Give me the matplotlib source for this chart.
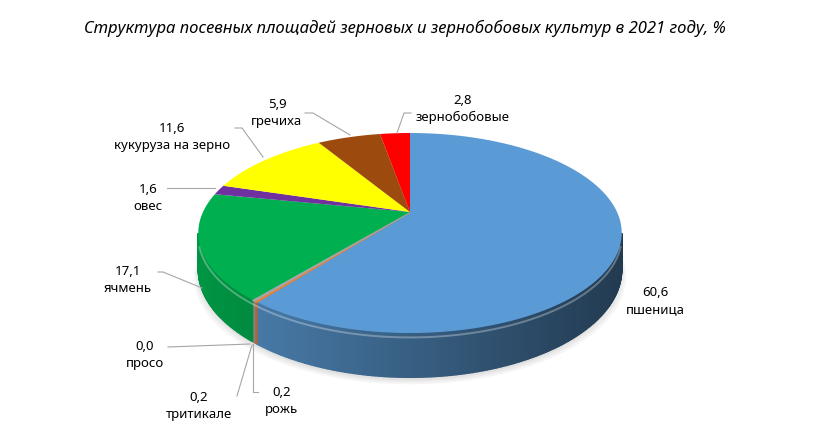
import numpy as np
import matplotlib.pyplot as plt
from matplotlib.patches import Polygon
from matplotlib.colors import to_rgb

plt.rcParams['font.family'] = ['Noto Sans', 'DejaVu Sans']

title = "Структура посевных площадей зерновых и зернобобовых культур в 2021 году, %"
crops = ["пшеница", "рожь", "тритикале", "просо", "ячмень", "овес",
         "кукуруза на зерно", "гречиха", "зернобобовые"]
shares = [60.6, 0.2, 0.2, 0.0, 17.1, 1.6, 11.6, 5.9, 2.8]
colors = ["#5B9BD5", "#ED7D31", "#A5A5A5", "#FFC000", "#00B050", "#7030A0",
          "#FFFF00", "#9C4A0E", "#FF0000"]

# label text centres and leader lines (pixels)
label_xy = [(655, 301), (282, 401), (199, 406), (145, 355), (128, 280),
            (148, 198), (172, 137), (277, 113), (463, 109)]
leaders = [None,
           [(253, 344), (253, 392), (258, 392)],
           [(252, 345), (237, 396)],
           [(250, 344), (168, 347)],
           [(202, 288), (163, 272), (158, 272)],
           [(215, 188), (167, 188)],
           [(263, 157), (242, 128), (235, 128)],
           [(350, 135), (313, 113), (305, 113)],
           [(397, 133), (404, 113), (411, 113)]]

# 3d pie geometry in pixels
cx, cy, A, B, k, D = 410, 212, 207, 95.6, 0.21, 35


def proj(t, h=0.0):
    s = 1 + k * np.cos(t)
    return cx + A * np.sin(t) / s, cy - B * np.cos(t) / s + D * h / s


fig = plt.figure(figsize=(8.25, 4.36), dpi=100)
ax = fig.add_axes([0, 0, 1, 1])
ax.set_xlim(0, 825)
ax.set_ylim(436, 0)
ax.axis('off')

fracs = np.array(shares) / sum(shares)
ends = np.cumsum(fracs) * 2 * np.pi
starts = ends - fracs * 2 * np.pi

# soft shadow
tt = np.linspace(0, 2 * np.pi, 200)
for i in range(3):
    sx, sy = proj(tt, 1.0)
    ax.add_patch(Polygon(np.c_[cx + (sx - cx) * (1.0 + 0.01 * i), sy + 3 + 2 * i],
                         closed=True, fc='black', ec='none', alpha=0.04, zorder=0))

# side walls
vis0, vis1 = np.arccos(-k), 2 * np.pi - np.arccos(-k)
for t0, t1, col in zip(starts, ends, colors):
    a0, a1 = max(t0, vis0), min(t1, vis1)
    if a1 <= a0:
        continue
    steps = np.linspace(a0, a1, max(2, int((a1 - a0) / 0.01)))
    base = np.array(to_rgb(col))
    for s0, s1 in zip(steps[:-1], steps[1:]):
        xa, ya = proj(np.array([s0, s1]))
        xb, yb = proj(np.array([s1, s0]), 1.0)
        xm = (xa.mean() - 195) / 425
        f = np.clip(0.85 - 0.47 * xm, 0.38, 0.9)
        ax.add_patch(Polygon(np.c_[np.r_[xa, xb], np.r_[ya, yb]], closed=True,
                             fc=base * f, ec=base * f, lw=1.0, zorder=1))

# top faces
for t0, t1, col in zip(starts, ends, colors):
    if t1 - t0 <= 0:
        continue
    arc = np.linspace(t0, t1, max(3, int((t1 - t0) / 0.01)))
    x, y = proj(arc)
    lw = 1.2 if t1 - t0 < 0.05 else 0
    ax.add_patch(Polygon(np.c_[np.r_[cx, x], np.r_[cy, y]], closed=True,
                         fc=col, ec=col, lw=lw, zorder=2))

# rim highlight
arc = np.linspace(vis0 + 0.1, vis1 - 0.1, 200)
hx, hy = proj(arc, 0.1)
ax.plot(hx, hy, color='white', lw=1.4, alpha=0.3, zorder=3)

# labels
for name, v, (lx, ly), ld in zip(crops, shares, label_xy, leaders):
    ax.text(lx, ly, f"{v:.1f}".replace('.', ',') + "\n" + name, ha='center',
            va='center', fontsize=9.5, linespacing=1.45, color='#000000', zorder=5)
    if ld:
        px, py = zip(*ld)
        ax.plot(px, py, color='#A6A6A6', lw=0.8, zorder=4)

ax.text(405, 28, title, ha='center', va='center', fontsize=12,
        style='italic', color='#000000')

fig.savefig('out.png', dpi=100)
